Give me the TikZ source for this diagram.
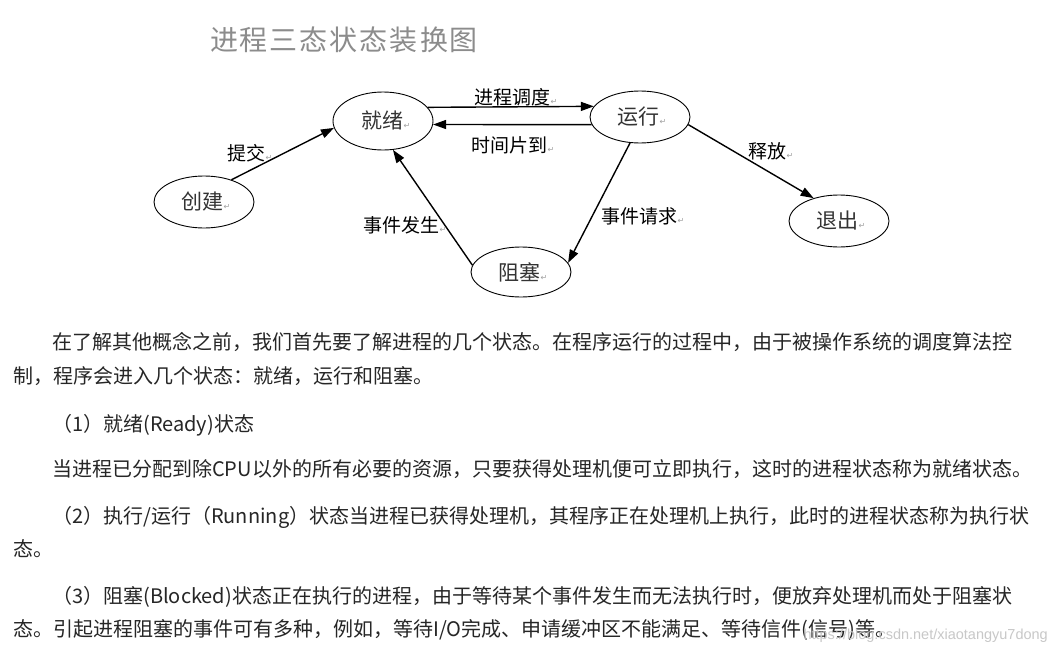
\documentclass[tikz,border=0pt]{standalone}
\usepackage{fontspec}
\usetikzlibrary{shapes.geometric,arrows.meta}
\newfontfamily\cjk{Noto Sans CJK SC}
\newfontfamily\dvs{DejaVu Sans}
\newfontfamily\lsans{Liberation Sans}
\definecolor{bodytext}{HTML}{262626}
\definecolor{titlegray}{HTML}{8C8C8C}
\definecolor{markgray}{HTML}{A0A0A0}
\definecolor{wmgray}{HTML}{C8C8C8}
\newcommand\pmark{{\dvs\color{markgray}\fontsize{8}{8}\selectfont ↵}}
\tikzset{
  state/.style={ellipse,draw=black,line width=0.9pt,minimum width=100pt,minimum height=52pt,inner sep=0pt,
    font=\cjk\fontsize{21}{21}\selectfont,text=black!80},
  edgelabel/.style={inner sep=0pt,font=\cjk\fontsize{19}{19}\selectfont,text=black},
  arr/.style={line width=1.4pt,-{Triangle[length=13pt,width=9pt]}},
  bodyline/.style={anchor=base west,inner sep=0pt,font=\cjk\fontsize{20}{24}\selectfont,text=bodytext},
}
\begin{document}
\begin{tikzpicture}[x=1pt,y=-1pt]
\useasboundingbox[fill=white] (0,0) rectangle (1057,653);
% title
\node[inner sep=0pt,font=\cjk\fontsize{28}{28}\selectfont,text=titlegray] (title) at (344,40) {进\kern2pt 程\kern2pt 三\kern2pt 态\kern2pt 状\kern2pt 态\kern2pt 装\kern2pt 换\kern2pt 图};
% states
\node[state,minimum height=58pt] (ready) at (383,121) {\kern6pt 就绪\pmark};
\node[state] (run) at (640,117) {\kern4pt 运行\pmark};
\node[state] (create) at (204,202) {\kern4pt 创建\pmark};
\node[state,minimum height=50pt] (block) at (521,272) {\kern4pt 阻塞\pmark};
\node[state] (exit) at (839,221) {\kern4pt 退出\pmark};
% arrows
\draw[arr] (ready.17.7) -- (run.167.8);
\draw[arr] (run.189.5) -- (ready.-4.6);
\draw[arr] (create.39) -- (ready.188);
\draw[arr] (block.172) -- (ready.-71);
\draw[arr] (run.-111) -- (block.11);
\draw[arr] (run.-9.2) -- (exit.138);
% edge labels
\node[edgelabel] (l1) at (516,97) {进程调度\pmark};
\node[edgelabel] (l2) at (513,145) {时间片到\pmark};
\node[edgelabel] (l3) at (250,153) {提交\pmark};
\node[edgelabel] (l4) at (771,151) {释放\pmark};
\node[edgelabel] (l5) at (405,225) {事件发生\pmark};
\node[edgelabel] (l6) at (643,216) {事件请求\pmark};
% body text
\node[bodyline] (p1a) at (52,349) {在了解其他概念之前，我们首先要了解进程的几个状态。在程序运行的过程中，由于被操作系统的调度算法控};
\node[bodyline] (p1b) at (13,383) {制，程序会进入几个状态：就绪，运行和阻塞。};
\node[bodyline] (p2) at (52,431) {（1）就绪(Ready)状态};
\node[bodyline] (p3) at (52,476) {当进程已分配到除CPU以外的所有必要的资源，只要获得处理机便可立即执行，这时的进程状态称为就绪状态。};
\node[bodyline] (p4a) at (52,523) {（2）执行/运行（Running）状态当进程已获得处理机，其程序正在处理机上执行，此时的进程状态称为执行状};
\node[bodyline] (p4b) at (13,556) {态。};
\node[bodyline] (p5a) at (52,603) {（3）阻塞(Blocked)状态正在执行的进程，由于等待某个事件发生而无法执行时，便放弃处理机而处于阻塞状};
\node[bodyline] (p5b) at (13,636) {态。引起进程阻塞的事件可有多种，例如，等待I/O完成、申请缓冲区不能满足、等待信件(信号)等。};
% watermark (overlaps the last line, as in the screenshot)
\node[anchor=base east,inner sep=0pt,font=\lsans\fontsize{14.5}{15}\selectfont,text=wmgray] (wm) at (1048,639) {https://blog.csdn.net/xiaotangyu7dong};
\end{tikzpicture}
\end{document}
